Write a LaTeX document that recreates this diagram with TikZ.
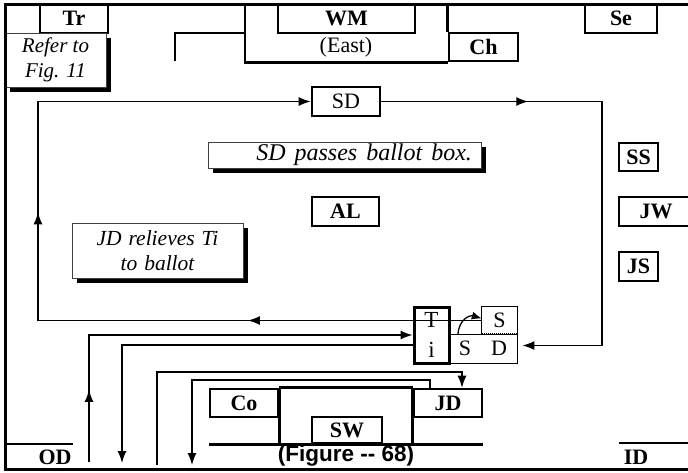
\documentclass[tikz,border=0pt]{standalone}
\usepackage{fontspec}
\setmainfont{Liberation Serif}
\newfontfamily\figfont{Liberation Sans}
\usetikzlibrary{arrows.meta, positioning, shadows, decorations.markings}

\begin{document}
\begin{tikzpicture}[x=1pt, y=-1pt,
    every node/.style={font=\fontsize{22}{25}\selectfont, inner sep=0pt},
    wall/.style={line width=2.6pt},
    flow/.style={line width=1.3pt},
    box/.style={draw, line width=2.6pt, minimum height=28pt},
    tag/.style={box, font=\fontsize{22}{25}\selectfont\bfseries},
    note/.style={draw=black!75, line width=1pt, fill=white, align=center,
      font=\fontsize{21}{25}\selectfont\itshape,
      drop shadow={shadow xshift=5pt, shadow yshift=-5pt, fill=black, opacity=1}},
    gap/.style={execute at begin node={\spaceskip=#1\relax}},
    midtip/.style={postaction={decorate, decoration={markings,
      mark=at position #1 with {\arrow{Latex[length=12pt,width=9pt]}}}}},
    >={Latex[length=12pt,width=9pt]}]
  \clip (0,0) rectangle (688,472);

  \node[tag, minimum width=68pt, minimum height=29pt] (tr) at (74,18.5) {Tr};
  \node[tag, minimum width=137pt, minimum height=29pt] (wm) at (346.5,18.5) {WM};
  \node[tag, minimum width=72pt, minimum height=29pt] (se) at (621,18.5) {Se};
  \node[tag, minimum width=69pt, minimum height=28pt] (ch) at (483.5,47) {Ch};
  \node (east) at (346,47) {(East)};
  \draw[wall] (245,4) |- (ch.south west);
  \draw[wall] (ch.north west) -- (ch.north west |- tr.north);
  \draw[wall] (175,61) |- (245,33);
  \node[note, minimum width=101pt, minimum height=54pt] (refer) at (55.5,60) {Refer to\\Fig. 11};

  \node[box, minimum width=68pt, minimum height=29pt] (sd) at (346,101.5) {SD};
  \node[note, minimum width=273pt, minimum height=26pt, text width=255pt, align=right,
    font=\fontsize{24}{25}\selectfont\itshape, gap=9pt] (pass) at (344.5,155) {SD passes ballot box.};
  \node[tag, minimum width=67pt, minimum height=29pt] (al) at (345.5,211.5) {AL};
  \node[note, minimum width=171pt, minimum height=55pt,
    font=\fontsize{21.5}{25}\selectfont\itshape, gap=7pt] (relieve) at (157.5,250.5) {JD relieves Ti\\to ballot};
  \node[tag, minimum width=39pt, minimum height=28pt] (ss) at (638.5,157) {SS};
  \node[tag, minimum width=39pt, minimum height=29pt] (js) at (638.5,266.5) {JS};
  \node[font=\fontsize{22}{25}\selectfont\bfseries] (jw) at (656,211.5) {JW};
  \draw[wall] (700,197) -| (619,226) -- (700,226);

  \node[draw, line width=0.8pt, minimum width=68pt, minimum height=29pt] (sdbox) at (483,348.5) {S\hspace{20pt}D};
  \node[minimum width=35pt, minimum height=27pt] (sbox) at (499.5,320.5) {S};
  \draw[line width=0.8pt] (sbox.south west) |- (sbox.north east) -- (sbox.south east);
  \draw[line width=2.5pt, dash pattern=on 1pt off 1pt] (sbox.south west) -- (sbox.south east);
  \node[box, line width=3pt, minimum width=35pt, minimum height=56pt, align=center,
    font=\fontsize{23}{30}\selectfont] (ti) at (431.5,335) {T\\i};
  \coordinate (hop) at (458,334);
  \draw[flow, -{Latex[length=10pt,width=8pt]}] (hop) .. controls (459,319) and (470,315) .. ([yshift=2pt]sbox.west);

  \coordinate (lnw) at (38,101.5);
  \draw[flow, midtip=0.25, midtip=0.59, ->] (sbox.west) -| (lnw) -- (sd.west);
  \coordinate (rne) at (602,101.5);
  \draw[flow, midtip=0.27, ->] (sd.east) -- (rne) |- ([xshift=5pt,yshift=3pt]sdbox.east);

  \node[tag, minimum width=68pt] (co) at (244,403) {Co};
  \node[tag, minimum width=68pt] (jd) at (448,403) {JD};
  \node[tag, minimum width=70pt, minimum height=26pt] (sw) at (347,430) {SW};
  \draw[wall] (co.north east) -- (jd.north west);
  \draw[wall] (co.north east) -- (co.north east |- sw.south);
  \draw[wall] (jd.north west) -- (jd.north west |- sw.south);
  \draw[wall] (co.south west |- sw.south) -- (jd.south east |- sw.south);

  \coordinate (abot) at (89,462);
  \draw[flow, midtip=0.16, ->] (abot) |- (ti.west);
  \coordinate (bbot) at (122,463);
  \draw[flow, ->] ([yshift=-10pt]ti.west) -| (bbot);
  \coordinate (cbot) at (157,465);
  \coordinate (ctop) at (157,372);
  \draw[flow, ->] (cbot) -- (ctop) -| ([xshift=14pt]jd.north);
  \coordinate (dtop) at (192,380);
  \coordinate (dbot) at (192,465);
  \draw[flow, ->] ([xshift=-18pt]jd.north) |- (dtop) -- (dbot);

  \draw[wall] (5,444) -- (73,444);
  \node[font=\fontsize{22}{25}\selectfont\bfseries] (od) at (55,457) {OD};
  \draw[wall] (619,443) -- (700,443);
  \node[font=\fontsize{22}{25}\selectfont\bfseries] (id) at (636,457) {ID};
  \node[font=\figfont\bfseries\fontsize{22.5}{25}\selectfont] (fig) at (346,456) {(Figure -{}- 68)};

  \draw[line width=3pt] (700,4) -| (5,469) -- (700,469);
\end{tikzpicture}
\end{document}
